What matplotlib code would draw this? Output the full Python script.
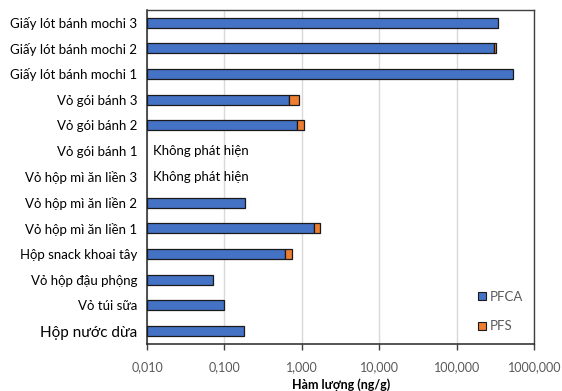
import numpy as np
import matplotlib
matplotlib.use("Agg")
import matplotlib.pyplot as plt
from matplotlib.lines import Line2D
from matplotlib.ticker import FixedLocator, FixedFormatter, NullLocator

plt.rcParams['font.family'] = ['Lato', 'DejaVu Sans']

# Samples, listed top to bottom
categories = [
    "Giấy lót bánh mochi 3",
    "Giấy lót bánh mochi 2",
    "Giấy lót bánh mochi 1",
    "Vỏ gói bánh 3",
    "Vỏ gói bánh 2",
    "Vỏ gói bánh 1",
    "Vỏ hộp mì ăn liền 3",
    "Vỏ hộp mì ăn liền 2",
    "Vỏ hộp mì ăn liền 1",
    "Hộp snack khoai tây",
    "Vỏ hộp đậu phộng",
    "Vỏ túi sữa",
    "Hộp nước dừa",
]

# Concentrations in ng/g (nan = not detected)
pfca = [338.0, 305.0, 533.0, 0.673, 0.854, np.nan, np.nan, 0.182, 1.415, 0.597, 0.0711, 0.0986, 0.180]
pfs = [0.0, 19.0, 0.0, 0.233, 0.217, np.nan, np.nan, 0.0, 0.275, 0.153, 0.0, 0.0, 0.0]
not_detected_text = "Không phát hiện"

x_ticks = [0.01, 0.1, 1, 10, 100, 1000]
x_tick_labels = ["0,010", "0,100", "1,000", "10,000", "100,000", "1000,000"]

series_names = ["PFCA", "PFS"]
blue = "#4472C4"
orange = "#ED7D31"
edge = "#1a1a1a"
grey_text = "#595959"

fig = plt.figure(figsize=(5.62, 3.91), dpi=100)
ax = fig.add_axes([0.2616, 0.1202, 0.9509 - 0.2616, 0.9752 - 0.1202])

y = np.arange(len(categories))
pfca_arr = np.array(pfca)
pfs_arr = np.array(pfs)
bar_h = 0.39

left0 = np.full(len(y), 0.01)
ax.barh(y, pfca_arr - 0.01, left=left0, height=bar_h, color=blue,
        edgecolor=edge, linewidth=0.9, zorder=3)
has_pfs = np.nan_to_num(pfs_arr) > 0
ax.barh(y[has_pfs], pfs_arr[has_pfs], left=pfca_arr[has_pfs], height=bar_h,
        color=orange, edgecolor=edge, linewidth=0.9, zorder=3)

for yi, v in zip(y, pfca_arr):
    if np.isnan(v):
        ax.annotate(not_detected_text, xy=(0.01, yi), xytext=(4, 0),
                    textcoords="offset points", va="center", ha="left",
                    fontsize=9.5, color="#000000")

ax.set_xscale("log")
ax.set_xlim(0.01, 1000)
ax.set_ylim(len(categories) - 0.5, -0.5)

ax.xaxis.set_major_locator(FixedLocator(x_ticks))
ax.xaxis.set_major_formatter(FixedFormatter(x_tick_labels))
ax.xaxis.set_minor_locator(NullLocator())
ax.tick_params(axis="x", direction="out", length=4, width=1, color="#404040",
               labelsize=9, labelcolor=grey_text, pad=8)

ax.set_yticks(y)
ax.set_yticklabels(categories)
ax.tick_params(axis="y", length=0, pad=7, labelsize=9.5, labelcolor="#000000")
for lbl in ax.get_yticklabels():
    if lbl.get_text() == "Hộp nước dừa":
        lbl.set_fontsize(11)

ax.grid(axis="x", color="#D9D9D9", linewidth=1, zorder=0)
ax.set_axisbelow(True)

for side in ["left", "bottom"]:
    ax.spines[side].set_color("#262626")
    ax.spines[side].set_linewidth(1.1)
for side in ["top", "right"]:
    ax.spines[side].set_color("#404040")
    ax.spines[side].set_linewidth(1.0)

ax.set_xlabel("Hàm lượng (ng/g)", fontsize=9, fontweight="bold", labelpad=4)

handles = [
    Line2D([], [], marker="s", linestyle="none", markersize=6,
           markerfacecolor=blue, markeredgecolor=edge, markeredgewidth=0.8),
    Line2D([], [], marker="s", linestyle="none", markersize=6,
           markerfacecolor=orange, markeredgecolor=edge, markeredgewidth=0.8),
]
leg = ax.legend(handles, series_names, loc="center left",
                bbox_to_anchor=(0.855, 0.097), frameon=False,
                fontsize=9.5, handlelength=0.6, handletextpad=0.3,
                labelspacing=1.35, borderpad=0, borderaxespad=0)
for t in leg.get_texts():
    t.set_color(grey_text)

fig.savefig("out.png", dpi=100)
